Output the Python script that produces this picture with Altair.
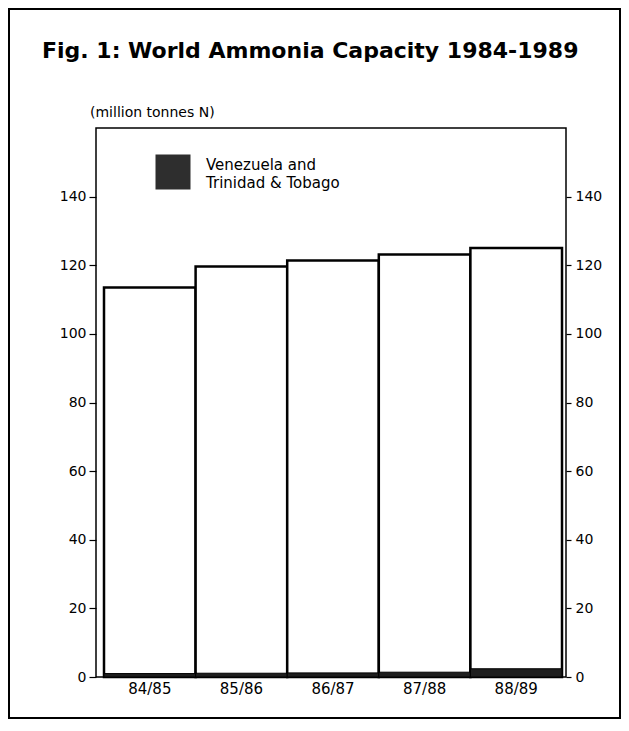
import altair as alt
import pandas as pd

seasons = ["84/85", "85/86", "86/87", "87/88", "88/89"]
world_total = [113.5, 119.6, 121.4, 123.1, 125.0]
ven_tt = [1.0, 1.1, 1.2, 1.4, 2.4]
y_ticks = [0, 20, 40, 60, 80, 100, 120, 140]

title_text = "Fig. 1: World Ammonia Capacity 1984-1989"
units_text = "(million tonnes N)"
legend_lines = ["Venezuela and", "Trinidad & Tobago"]

FONT = "DejaVu Sans"

df = pd.DataFrame({"season": seasons, "total": world_total, "ven": ven_tt})
one = pd.DataFrame({"a": [0]})

xenc = alt.X(
    "season:N",
    sort=seasons,
    title=None,
    scale=alt.Scale(paddingInner=0, paddingOuter=0.0655, align=0.667),
    axis=alt.Axis(labelAngle=0, ticks=False, domain=False, labelFontSize=15,
                  labelFont=FONT, labelColor="black", labelPadding=4),
)
ysc = alt.Scale(domain=[0, 160], nice=False)

bars = alt.Chart(df).mark_bar(fill="white", stroke="black", strokeWidth=2.5).encode(
    x=xenc,
    y=alt.Y("total:Q", scale=ysc, title=None,
            axis=alt.Axis(orient="left", values=y_ticks, grid=False, domain=False,
                          tickColor="black", tickSize=7, tickWidth=1.2,
                          labelPadding=3, labelFontSize=14, labelFont=FONT,
                          labelColor="black")),
)

dark = alt.Chart(df).mark_bar(fill="#1e1e1e", stroke="black", strokeWidth=1).encode(
    x=xenc,
    y=alt.Y("ven:Q", scale=ysc, title=None,
            axis=alt.Axis(orient="right", values=y_ticks, grid=False, domain=False,
                          tickColor="black", tickSize=5, tickWidth=1.2,
                          labelPadding=4, labelFontSize=14, labelFont=FONT,
                          labelColor="black")),
)

deco_base = alt.Chart(one)

frame = deco_base.mark_rect(filled=False, stroke="black", strokeWidth=2).encode(
    x=alt.value(-87), x2=alt.value(524), y=alt.value(-119), y2=alt.value(590)
)
title = deco_base.mark_text(align="left", baseline="alphabetic", fontSize=22,
                            fontWeight="bold", font=FONT, color="black").encode(
    x=alt.value(-54), y=alt.value(-70), text=alt.value(title_text)
)
units = deco_base.mark_text(align="left", baseline="middle", fontSize=14,
                            font=FONT, color="black").encode(
    x=alt.value(-6), y=alt.value(-15), text=alt.value(units_text)
)
leg_sq = deco_base.mark_square(filled=True, color="#2e2e2e", size=1225, opacity=1).encode(
    x=alt.value(77), y=alt.value(44)
)
leg_t1 = deco_base.mark_text(align="left", baseline="middle", fontSize=15,
                             font=FONT, color="black").encode(
    x=alt.value(110), y=alt.value(37), text=alt.value(legend_lines[0])
)
leg_t2 = deco_base.mark_text(align="left", baseline="middle", fontSize=15,
                             font=FONT, color="black").encode(
    x=alt.value(110), y=alt.value(55), text=alt.value(legend_lines[1])
)

chart = alt.layer(bars, dark, frame, title, units, leg_sq, leg_t1, leg_t2).resolve_scale(
    y="shared"
).resolve_axis(y="independent").properties(
    width=470, height=549,
    autosize=alt.AutoSizeParams(type="none"),
    padding={"left": 88, "top": 120, "right": 55, "bottom": 42},
    background="white",
).configure_view(stroke="black", strokeWidth=1.5)

chart.save("out.html", embed_options={"renderer": "svg", "actions": False})
